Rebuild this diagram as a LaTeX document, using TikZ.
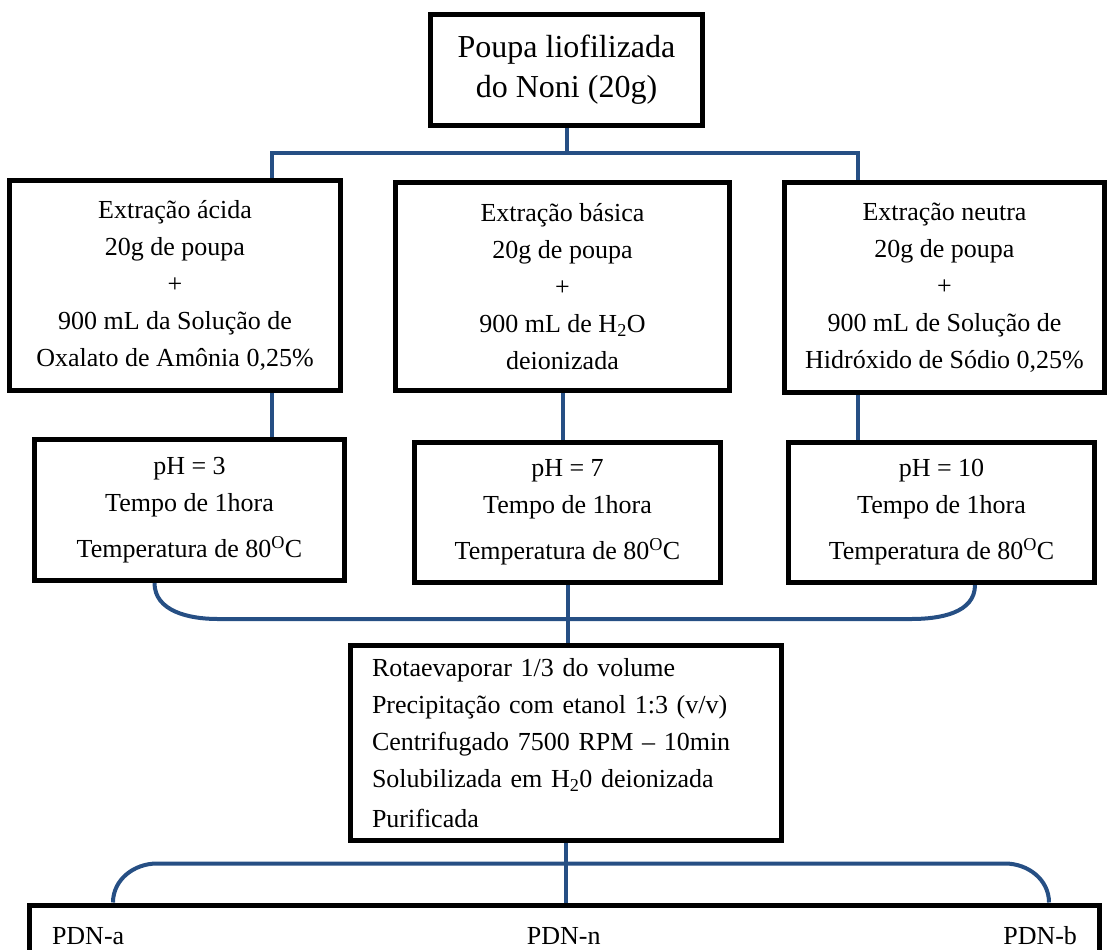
\documentclass[tikz,border=0pt]{standalone}
\usepackage{fontspec}
\setmainfont{Liberation Serif}
\usepackage{xcolor}
\usepackage{tikz}
\usetikzlibrary{positioning, backgrounds}
\definecolor{linkblue}{RGB}{38, 79, 132}

\begin{document}
\begin{tikzpicture}[
    x=1pt, y=-1pt,
    box/.style={rectangle, draw=black, fill=white, line width=5pt, align=center, inner sep=0pt, font=\fontsize{26}{37}\selectfont},
    phbox/.style={box, minimum width=306pt, minimum height=140pt},
    link/.style={draw=linkblue, line width=4pt}
]
    \useasboundingbox (0,0) rectangle (1108,950);

    % Nodes
    \node[box, minimum width=272pt, minimum height=111pt, font=\fontsize{32}{40}\selectfont] (noni) at (566.5,70) {Poupa liofilizada\\do Noni (20g)};
    \node[box, minimum width=331pt, minimum height=210pt] (acida) at (175,285.5) {Extração ácida\\20g de poupa\\+\\900 mL da Solução de\\Oxalato de Amônia 0,25\%};
    \node[box, minimum width=334pt, minimum height=208pt] (basica) at (562.5,286.5) {Extração básica\\20g de poupa\\+\\900 mL de H\textsubscript{2}O\\deionizada};
    \node[box, minimum width=320pt, minimum height=210pt] (neutra) at (944.5,287.5) {Extração neutra\\20g de poupa\\+\\900 mL de Solução de\\Hidróxido de Sódio 0,25\%};
    \node[phbox, minimum width=310pt, minimum height=141pt] (ph3) at (189.5,510) {pH = 3\\Tempo de 1hora\\[9pt]Temperatura de 80\textsuperscript{O}C};
    \node[phbox] (ph7) at (567.5,512.5) {pH = 7\\Tempo de 1hora\\[9pt]Temperatura de 80\textsuperscript{O}C};
    \node[phbox] (ph10) at (941.5,512.5) {pH = 10\\Tempo de 1hora\\[9pt]Temperatura de 80\textsuperscript{O}C};
    \node[box, align=left, text width=388pt, minimum width=431pt, minimum height=195pt] (proc) at (566,743) {Rotaevaporar 1/3 do volume\\Precipitação com etanol 1:3 (v/v)\\Centrifugado 7500 RPM -- 10min\\Solubilizada em H\textsubscript{2}0 deionizada\\[3pt]Purificada};
    \node[box, anchor=north, minimum width=1070pt, text height=39pt, text depth=60pt] (pdn) at (564.5,902.5) {\makebox[1025pt]{PDN-a\hfill PDN-n\hfill PDN-b}};

    \coordinate (bl) at (272,153);
    \coordinate (br) at (858,153);

    % Paths
    \begin{scope}[on background layer]
    \draw[link] (noni.south) -- (noni.south |- bl);
    \draw[link] (bl |- acida.north) -- (bl) -- (br) -- (br |- neutra.north);
    \draw[link] (bl |- acida.south) -- (bl |- ph3.north);
    \draw[link] (basica.south) -- (basica.south |- ph7.north);
    \draw[link] (br |- neutra.south) -- (br |- ph10.north);
    \draw[link] ([xshift=-35pt]ph3.south) to[out=-90, in=180] ++(63,36) -- ++(694,0) to[out=0, in=-90] ([xshift=33.5pt]ph10.south);
    \draw[link] (ph7.south) -- (ph7.south |- proc.north);
    \draw[link] (proc.south) -- (proc.south |- pdn.north);
    \draw[link] ([xshift=-451.5pt]pdn.north) to[out=90, in=180] ++(44,-39) -- ++(848,0) to[out=0, in=90] ([xshift=484.5pt]pdn.north);
    \end{scope}
\end{tikzpicture}
\end{document}
